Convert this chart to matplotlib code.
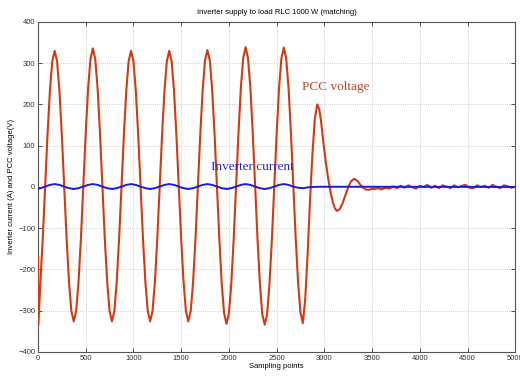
import matplotlib
matplotlib.use('Agg')
import matplotlib.pyplot as plt
from matplotlib.ticker import MultipleLocator

# PCC voltage: start transient, steady oscillation (step 25), decay tail, noise
start_x = [0, 4]
start_v = [-170, -335]

osc_x = list(range(25, 2800, 25))
osc_v = [
    -233, -126, 0, 126, 233, 305, 330,
    305, 233, 126, 0, -125, -230, -301, -326,
    -301, -230, -125, 0, 129, 238, 310, 336,
    310, 238, 129, 0, -125, -230, -301, -326,
    -301, -230, -125, 0, 126, 233, 305, 330,
    305, 233, 126, 0, -125, -230, -301, -326,
    -301, -230, -125, 0, 126, 233, 305, 330,
    305, 233, 126, 0, -125, -230, -301, -326,
    -301, -230, -125, 0, 127, 235, 307, 332,
    307, 235, 127, 0, -127, -235, -307, -332,
    -307, -235, -127, 0, 130, 240, 313, 339,
    313, 240, 130, 0, -128, -236, -309, -334,
    -309, -236, -128, 0, 129, 239, 312, 338,
    312, 239, 129, 0, -126, -233, -305, -330,
]

tail_x = [2800, 2825, 2850, 2875, 2900, 2925, 2945, 2965, 2990, 3015, 3040,
          3065, 3090, 3110, 3130, 3160, 3190, 3220, 3250, 3280, 3315, 3345,
          3375, 3405, 3435, 3465, 3495]
tail_v = [-270, -160, -30, 80, 165, 200, 190, 160, 107, 60, 20,
          -13, -38, -52, -58, -54, -40, -20, 0, 14, 20, 15,
          6, -2, -6, -7, -5]

noise_x = list(range(3520, 5000, 40)) + [5000]
noise_v = [-5, -3, -6, -2, -4, 1, -3, 3, -2, 4, -1, -4, 3, 0, 5,
           -2, 3, -3, 4, 1, -3, 4, -1, 3, 5, -2, -3, 4, 0, 3,
           -2, 5, 1, -3, 4, 2, -2, 1]

# Inverter current
cur_x = [0] + list(range(25, 2600, 50)) + [2625, 2675, 2725, 2775, 2825, 2875, 2950, 3500, 5000]
cur_v = [
    -4,
    -3, 1, 5, 7, 5, 1, -3, -5,
    -3, 1, 5, 7, 5, 1, -3, -5,
    -3, 1, 5, 7, 5, 1, -3, -5,
    -3, 1, 5, 7, 5, 1, -3, -5,
    -3, 1, 5, 7, 5, 1, -3, -5,
    -3, 1, 5, 7, 5, 1, -3, -5,
    -3, 1, 5, 7,
    5, 1, -2, -3, -1, 0, 0.5, 0.5, 0,
]

volt_x = start_x + osc_x + tail_x + noise_x
volt_v = start_v + osc_v + tail_v + noise_v

plt.rcParams['font.family'] = ['Liberation Sans', 'DejaVu Sans']
plt.rcParams['font.size'] = 5.5

fig = plt.figure(figsize=(5.2, 3.76), dpi=100)
ax = fig.add_axes([0.073, 0.064, 0.918, 0.8775])

ax.plot(volt_x, volt_v, color='#d03a14', lw=1.5, zorder=3)
ax.plot(cur_x, cur_v, color='#1c1cd2', lw=1.4, zorder=4)

ax.set_xlim(0, 5000)
ax.set_ylim(-400, 400)
ax.xaxis.set_major_locator(MultipleLocator(500))
ax.yaxis.set_major_locator(MultipleLocator(100))
ax.grid(True, linestyle=(0, (1, 2)), color='#a8a8a8', lw=0.5)
ax.tick_params(direction='in', length=3, width=0.6, colors='#333333',
               top=True, right=True, pad=2, labelsize=5.5)
for s in ax.spines.values():
    s.set_color('#555555')
    s.set_linewidth(0.8)

ax.set_title('Inverter supply to load RLC 1000 W (matching)', fontsize=5.5, pad=6)
ax.set_xlabel('Sampling points', fontsize=5.5, labelpad=1)
ax.set_ylabel('Inverter current (A) and PCC voltage(V)', fontsize=5.5, labelpad=2)

ax.text(2770, 242, 'PCC voltage', family=['Liberation Serif'], fontsize=9.5,
        color='#b5452a', va='center', ha='left', zorder=6)
ax.text(1815, 48, 'Inverter current', family=['Liberation Serif'], fontsize=9.5,
        color='#2828b2', va='center', ha='left', zorder=6)

fig.savefig('out.png', dpi=100)
